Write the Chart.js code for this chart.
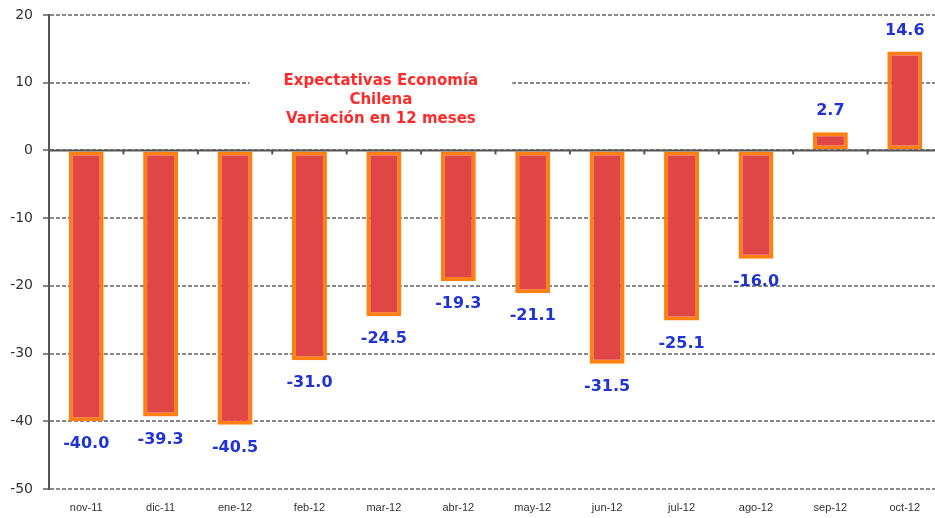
<!DOCTYPE html>
<html>
<head>
<meta charset="utf-8">
<script src="https://cdn.jsdelivr.net/npm/chart.js@4"></script>
<style>
  html, body { margin: 0; padding: 0; background: #fff; overflow: hidden; }
  #wrap { width: 945px; height: 518px; }
</style>
</head>
<body>
<div id="wrap"><canvas id="grafico" width="945" height="518"></canvas></div>
<script>
const meses = ["nov-11", "dic-11", "ene-12", "feb-12", "mar-12", "abr-12", "may-12", "jun-12", "jul-12", "ago-12", "sep-12", "oct-12"];
const variacion = [-40.0, -39.3, -40.5, -31.0, -24.5, -19.3, -21.1, -31.5, -25.1, -16.0, 2.7, 14.6];
const titulo = ["Expectativas Economía", "Chilena", "Variación en 12 meses"];

// etiquetas de valor, titulo y linea del cero
const extras = {
    id: 'extras',
    afterDatasetsDraw(chart) {
        const ctx = chart.ctx;
        const x = chart.scales.x;
        const y = chart.scales.y;
        const area = chart.chartArea;
        const y0 = y.getPixelForValue(0);

        ctx.save();
        // linea del cero
        ctx.strokeStyle = '#555';
        ctx.lineWidth = 2;
        ctx.beginPath();
        ctx.moveTo(area.left, y0);
        ctx.lineTo(area.right, y0);
        ctx.stroke();
        // marcas entre categorias
        for (let i = 0; i < meses.length - 1; i++) {
            const xm = (x.getPixelForValue(i) + x.getPixelForValue(i + 1)) / 2;
            ctx.beginPath();
            ctx.moveTo(xm, y0);
            ctx.lineTo(xm, y0 + 4);
            ctx.stroke();
        }

        // valores
        ctx.fillStyle = '#1f33d6';
        ctx.font = 'bold 16px "DejaVu Sans", sans-serif';
        ctx.textAlign = 'center';
        ctx.textBaseline = 'middle';
        chart.getDatasetMeta(0).data.forEach((bar, i) => {
            const v = variacion[i];
            const yy = v < 0 ? bar.y + 23 : bar.y - 21;
            ctx.fillText(v.toFixed(1), bar.x, yy);
        });

        // titulo con fondo blanco
        ctx.font = 'bold 15px "DejaVu Sans", sans-serif';
        const cx = x.getPixelForValue(4) - 3;
        const ancho = Math.max(...titulo.map(t => ctx.measureText(t).width));
        ctx.fillStyle = '#fff';
        ctx.fillRect(cx - ancho / 2 - 34, 70, ancho + 68, 60);
        ctx.fillStyle = '#ff2a2a';
        titulo.forEach((t, i) => {
            ctx.fillText(t, cx, 81 + i * 19);
        });
        ctx.restore();
    }
};

new Chart(document.getElementById('grafico'), {
    type: 'bar',
    data: {
        labels: meses,
        datasets: [{
            data: variacion,
            backgroundColor: '#e04646',
            borderColor: '#ff8010',
            borderWidth: 4,
            borderSkipped: false,
            barPercentage: 0.47,
            categoryPercentage: 1.0
        }]
    },
    options: {
        responsive: false,
        animation: false,
        layout: { padding: { top: 15, right: 3, left: 0, bottom: 0 } },
        plugins: {
            legend: { display: false },
            tooltip: { enabled: false }
        },
        scales: {
            x: {
                afterFit: s => { s.height = 29; },
                grid: { display: false, drawTicks: false },
                border: { display: false },
                ticks: {
                    color: '#333',
                    font: { size: 11, family: '"Liberation Sans", Arial, sans-serif' },
                    padding: 12,
                    maxRotation: 0
                }
            },
            y: {
                min: -50,
                max: 20,
                afterFit: s => { s.width = 49; },
                ticks: {
                    stepSize: 10,
                    color: '#333',
                    padding: 10,
                    font: { size: 14, lineHeight: 0.6, family: '"DejaVu Sans", sans-serif' }
                },
                grid: {
                    color: '#888',
                    lineWidth: 2,
                    tickLength: 6
                },
                border: {
                    display: true,
                    color: '#555',
                    width: 2,
                    dash: [4, 2]
                }
            }
        }
    },
    plugins: [extras]
});
</script>
</body>
</html>
